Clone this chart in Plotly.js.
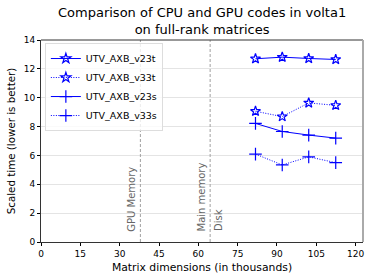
<!DOCTYPE html>
<html><head><meta charset="utf-8">
<script src="https://cdn.plot.ly/plotly-3.0.1.min.js"></script>
<style>html,body{margin:0;padding:0;background:#fff}#c{width:374px;height:280px}</style>
</head><body><div id="c"></div>
<script>
const sizes = [81.8, 92.0, 102.1, 112.4];
const v23t = [12.70, 12.81, 12.72, 12.65];
const v33t = [9.06, 8.69, 9.64, 9.47];
const v23s = [8.22, 7.66, 7.41, 7.20];
const v33s = [6.09, 5.34, 5.90, 5.50];
const seriesNames = ['UTV_AXB_v23t', 'UTV_AXB_v33t', 'UTV_AXB_v23s', 'UTV_AXB_v33s'];
const limits = [37.9, 64.5];
const limitLabels = ['GPU Memory', 'Main memory', 'Disk'];
const xTicks = [0, 15, 30, 45, 60, 75, 90, 105, 120];
const yTicks = [0, 2, 4, 6, 8, 10, 12, 14];
const titleText = 'Comparison of CPU and GPU codes in volta1<br>on full-rank matrices';

const blue = '#0000ff';
function tr(y, name, dash, sym, size) {
  return {x: sizes, y: y, name: name, type: 'scatter', mode: 'lines+markers',
    line: {color: blue, width: 1, dash: dash},
    marker: {symbol: sym, size: size, color: blue, line: {color: blue, width: 1.2}}};
}
const dotted = '1px,1.5px';
const data = [
  tr(v23t, seriesNames[0], 'solid', 'star-open', 7.5),
  tr(v33t, seriesNames[1], dotted, 'star-open', 7.5),
  tr(v23s, seriesNames[2], 'solid', 'cross-thin-open', 9),
  tr(v33s, seriesNames[3], dotted, 'cross-thin-open', 9)
];
const shapes = limits.map(v => ({type: 'line', xref: 'x', yref: 'paper', x0: v, x1: v, y0: 0, y1: 1,
  line: {color: '#a0a0a0', width: 1, dash: '3px,2px'}}));
const gray = '#666666';
const annotations = [
  {x: limits[0], y: 0.6, xref: 'x', yref: 'y', text: limitLabels[0], textangle: -90, showarrow: false,
   xanchor: 'right', yanchor: 'bottom', xshift: -1, font: {size: 10, color: gray}},
  {x: limits[1], y: 0.6, xref: 'x', yref: 'y', text: limitLabels[1], textangle: -90, showarrow: false,
   xanchor: 'right', yanchor: 'bottom', xshift: -1, font: {size: 10, color: gray}},
  {x: limits[1], y: 0.6, xref: 'x', yref: 'y', text: limitLabels[2], textangle: -90, showarrow: false,
   xanchor: 'left', yanchor: 'bottom', xshift: 1, font: {size: 10, color: gray}},
  {x: 0.5, y: 1, xref: 'paper', yref: 'paper', text: titleText, showarrow: false,
   xanchor: 'center', yanchor: 'bottom', yshift: 1, font: {size: 13}}
];
const layout = {
  width: 374, height: 280,
  margin: {l: 41, r: 11, t: 40, b: 38},
  paper_bgcolor: '#fff', plot_bgcolor: '#fff',
  font: {family: 'DejaVu Sans', size: 9, color: '#000'},
  xaxis: {range: [0, 122.8], tickvals: xTicks, ticks: 'outside', ticklen: 3, tickcolor: '#000',
    showgrid: false, zeroline: false, showline: true, linecolor: '#333', mirror: false,
    title: {text: 'Matrix dimensions (in thousands)', font: {size: 10.8}, standoff: 5},
    tickfont: {size: 9}},
  yaxis: {range: [0, 14], tickvals: yTicks, ticks: 'outside', ticklen: 3, tickcolor: '#000',
    showgrid: true, gridcolor: '#dddddd', gridwidth: 0.8, zeroline: false, showline: true, linecolor: '#333',
    title: {text: 'Scaled time (lower is better)', font: {size: 10.3}, standoff: 6},
    tickfont: {size: 9}},
  shapes: shapes.concat([
    {type: 'line', xref: 'paper', yref: 'paper', x0: 0, x1: 1, y0: 1, y1: 1, line: {color: '#333', width: 1}},
    {type: 'line', xref: 'paper', yref: 'paper', x0: 1, x1: 1, y0: 0, y1: 1, line: {color: '#aaaaaa', width: 2}}
  ]),
  annotations: annotations,
  legend: {x: 0.012, y: 0.985, xanchor: 'left', yanchor: 'top', bgcolor: 'rgba(255,255,255,0.8)',
    bordercolor: '#dddddd', borderwidth: 1, font: {size: 9.5}, tracegroupgap: 0, itemwidth: 30},
  showlegend: true
};
Plotly.newPlot('c', data, layout, {displayModeBar: false, staticPlot: true});
</script></body></html>
